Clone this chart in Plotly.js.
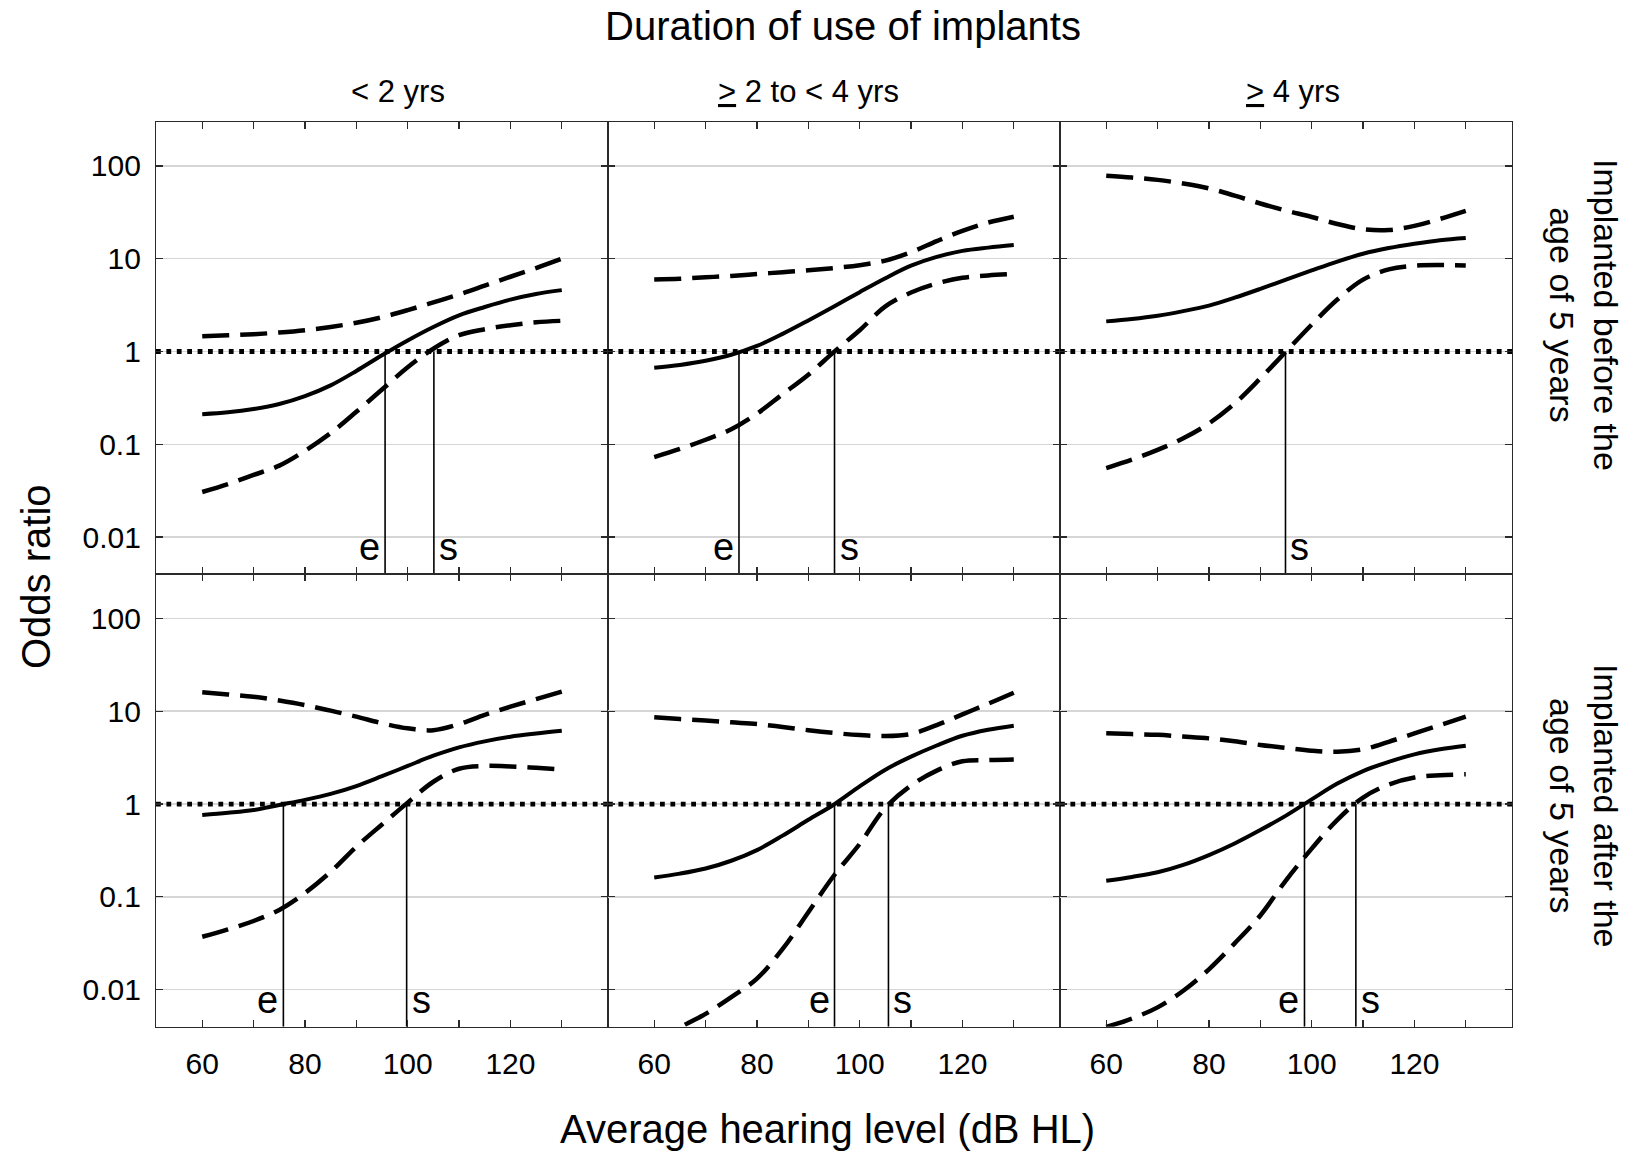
<!DOCTYPE html>
<html>
<head>
<meta charset="utf-8">
<script src="https://cdn.plot.ly/plotly-3.0.1.min.js"></script>
<style>html,body{margin:0;padding:0;background:#fff;}#chart{width:1630px;height:1155px;}</style>
</head>
<body>
<div id="chart"></div>
<script>
// ---------- data (odds ratios) ----------
const hearingLevel = [60, 65, 70, 75, 80, 85, 90, 95, 100, 105, 110, 115, 120, 125, 130];

const columnLabels = ['&lt; 2 yrs', '<u>&gt;</u> 2 to &lt; 4 yrs', '<u>&gt;</u> 4 yrs'];
const rowLabels = ['Implanted before the<br>age of 5 years', 'Implanted after the<br>age of 5 years'];

const yTickVals = [0.01, 0.1, 1, 10, 100];
const yTickText = ['0.01', '0.1', '1', '10', '100'];
const xTickVals = [60, 70, 80, 90, 100, 110, 120, 130];
const xTickText = ['60', '', '80', '', '100', '', '120', ''];

// Implanted before age 5
const orBeforeLt2  = [0.211, 0.221, 0.240, 0.272, 0.331, 0.432, 0.617, 0.912, 1.318, 1.841, 2.455, 3.02, 3.63, 4.17, 4.59];
const hiBeforeLt2  = [1.462, 1.496, 1.538, 1.603, 1.698, 1.841, 2.042, 2.344, 2.793, 3.388, 4.121, 5.129, 6.397, 7.943, 10.0];
const loBeforeLt2  = [0.0306, 0.0372, 0.0468, 0.0589, 0.0851, 0.132, 0.224, 0.389, 0.676, 1.072, 1.500, 1.738, 1.923, 2.065, 2.143];

const orBefore2to4 = [0.667, 0.716, 0.794, 0.923, 1.148, 1.549, 2.163, 3.055, 4.365, 6.166, 8.414, 10.47, 12.16, 13.18, 14.03];
const hiBefore2to4 = [5.984, 6.095, 6.310, 6.531, 6.839, 7.161, 7.499, 7.943, 8.511, 9.550, 11.75, 15.49, 19.95, 24.55, 28.38];
const loBefore2to4 = [0.0729, 0.0891, 0.112, 0.145, 0.214, 0.347, 0.562, 0.991, 1.698, 3.062, 4.325, 5.408, 6.237, 6.607, 6.839];

const orBeforeGe4  = [2.113, 2.239, 2.427, 2.723, 3.126, 3.802, 4.732, 5.957, 7.482, 9.333, 11.32, 13.03, 14.52, 15.85, 16.75];
const hiBeforeGe4  = [78.5, 75.0, 70.8, 64.6, 57.3, 47.9, 39.4, 33.1, 28.2, 23.7, 20.8, 20.4, 22.6, 26.9, 32.8];
const loBeforeGe4  = [0.0555, 0.0684, 0.0871, 0.116, 0.168, 0.275, 0.513, 1.000, 1.950, 3.631, 5.957, 7.674, 8.414, 8.551, 8.472];

// Implanted after age 5
const orAfterLt2   = [0.762, 0.804, 0.861, 0.977, 1.109, 1.288, 1.563, 1.995, 2.570, 3.311, 4.074, 4.732, 5.309, 5.754, 6.166];
const hiAfterLt2   = [15.96, 15.14, 14.32, 13.03, 11.64, 10.12, 8.730, 7.413, 6.531, 6.237, 7.244, 9.120, 11.17, 13.49, 16.22];
const loAfterLt2   = [0.0372, 0.0447, 0.0550, 0.0724, 0.110, 0.186, 0.347, 0.603, 1.035, 1.738, 2.399, 2.570, 2.541, 2.455, 2.360];

const orAfter2to4  = [0.162, 0.178, 0.202, 0.245, 0.319, 0.457, 0.676, 0.989, 1.549, 2.344, 3.236, 4.266, 5.433, 6.310, 6.982];
const hiAfter2to4  = [8.590, 8.222, 7.943, 7.586, 7.278, 6.761, 6.237, 5.821, 5.521, 5.395, 5.689, 7.079, 9.226, 12.02, 15.81];
const loAfter2to4  = [0.0024, 0.00389, 0.00550, 0.00832, 0.0132, 0.0275, 0.0684, 0.170, 0.372, 0.912, 1.585, 2.291, 2.884, 2.972, 3.020];

const orAfterGe4   = [0.149, 0.164, 0.184, 0.221, 0.282, 0.376, 0.525, 0.750, 1.122, 1.660, 2.265, 2.851, 3.428, 3.890, 4.246];
const hiAfterGe4   = [5.768, 5.662, 5.559, 5.333, 5.093, 4.732, 4.325, 4.027, 3.758, 3.656, 3.890, 4.677, 5.768, 7.079, 8.730];
const loAfterGe4   = [0.00398, 0.00490, 0.00646, 0.00977, 0.0166, 0.0316, 0.0631, 0.151, 0.331, 0.676, 1.175, 1.622, 1.928, 2.042, 2.089];

// hearing levels where OR (e) and lower CI (s) cross 1
const eLevels = [95.6, 76.5, null, 75.8, 95.1, 98.6];
const sLevels = [105.1, 95.1, 94.9, 99.8, 105.6, 108.6];

const referenceOR = 1;
const yMin = 0.004, yMax = 300;
const xMin = 51, xMax = 139;
const letterLevel = 0.0078;

// ---------- build ----------
const panels = [
  [orBeforeLt2, hiBeforeLt2, loBeforeLt2],
  [orBefore2to4, hiBefore2to4, loBefore2to4],
  [orBeforeGe4, hiBeforeGe4, loBeforeGe4],
  [orAfterLt2, hiAfterLt2, loAfterLt2],
  [orAfter2to4, hiAfter2to4, loAfter2to4],
  [orAfterGe4, hiAfterGe4, loAfterGe4]
];

const W = 1630, H = 1155;
const colPx = [[156, 608], [608, 1060], [1060, 1512]];
const rowPx = [[121.7, 574], [574, 1026.7]];
const FONT = 'Arial, "Liberation Sans", Helvetica, sans-serif';

const traces = [];
const layout = {
  width: W, height: H, autosize: false,
  margin: {l: 0, r: 0, t: 0, b: 0},
  paper_bgcolor: '#ffffff', plot_bgcolor: '#ffffff',
  showlegend: false,
  font: {family: FONT, color: '#000', size: 30},
  title: {text: 'Duration of use of implants', x: 843 / W, xanchor: 'center', y: 1 - 26 / H, yanchor: 'middle',
          font: {size: 40, family: FONT, color: '#000'}},
  annotations: []
};

panels.forEach((p, i) => {
  const r = Math.floor(i / 3), c = i % 3;
  const xa = i === 0 ? 'x' : 'x' + (i + 1);
  const ya = i === 0 ? 'y' : 'y' + (i + 1);
  const xKey = i === 0 ? 'xaxis' : 'xaxis' + (i + 1);
  const yKey = i === 0 ? 'yaxis' : 'yaxis' + (i + 1);

  layout[xKey] = {
    domain: [colPx[c][0] / W, colPx[c][1] / W], anchor: ya,
    range: [xMin, xMax], showgrid: false, zeroline: false,
    showline: true, linecolor: '#2a2a2a', linewidth: 1.1, mirror: 'ticks',
    ticks: 'inside', ticklen: 7, tickwidth: 1.2, tickcolor: '#2a2a2a',
    tickmode: 'array', tickvals: xTickVals, ticktext: xTickText,
    showticklabels: r === 1, ticklabelstandoff: 10,
    tickfont: {size: 30, family: FONT, color: '#000'}
  };
  layout[yKey] = {
    domain: [1 - rowPx[r][1] / H, 1 - rowPx[r][0] / H], anchor: xa,
    type: 'log', range: [Math.log10(yMin), Math.log10(yMax)],
    showgrid: true, gridcolor: '#d6d6d6', gridwidth: 1.4, zeroline: false,
    showline: true, linecolor: '#2a2a2a', linewidth: 1.1, mirror: 'ticks',
    ticks: 'inside', ticklen: 7, tickwidth: 1.2, tickcolor: '#2a2a2a',
    tickmode: 'array', tickvals: yTickVals, ticktext: yTickText,
    showticklabels: c === 0, ticklabelstandoff: 8,
    tickfont: {size: 30, family: FONT, color: '#000'}
  };

  // reference line OR = 1
  traces.push({x: [xMin, xMax], y: [referenceOR, referenceOR], xaxis: xa, yaxis: ya, mode: 'lines',
    line: {color: '#000', width: 4.8, dash: '4.8px,5.6px'}, hoverinfo: 'skip'});
  // upper and lower confidence limits
  [p[1], p[2]].forEach(arr => traces.push({x: hearingLevel, y: arr, xaxis: xa, yaxis: ya, mode: 'lines',
    line: {color: '#000', width: 4.5, dash: '27px,11px', shape: 'spline', smoothing: 1}, hoverinfo: 'skip'}));
  // odds ratio
  traces.push({x: hearingLevel, y: p[0], xaxis: xa, yaxis: ya, mode: 'lines',
    line: {color: '#000', width: 4, shape: 'spline', smoothing: 1}, hoverinfo: 'skip'});

  // e and s drop lines + labels
  [[eLevels[i], 'e', 'right', -3], [sLevels[i], 's', 'left', 3]].forEach(([lv, txt, anc, sh]) => {
    if (lv === null) return;
    traces.push({x: [lv, lv], y: [referenceOR, yMin], xaxis: xa, yaxis: ya, mode: 'lines',
      line: {color: '#000', width: 1.6}, hoverinfo: 'skip'});
    layout.annotations.push({xref: xa, yref: ya, x: lv, y: Math.log10(letterLevel), text: txt,
      xanchor: anc, yanchor: 'middle', xshift: sh, showarrow: false,
      font: {size: 38, family: FONT, color: '#000'}});
  });
});

// column headers
const colCenters = [398, 808, 1293];
columnLabels.forEach((t, c) => layout.annotations.push({xref: 'paper', yref: 'paper', x: colCenters[c] / W, y: 1 - 92 / H,
  text: t, showarrow: false, xanchor: 'center', yanchor: 'middle', font: {size: 31, family: FONT, color: '#000'}}));

// row labels
const rowCenters = [315, 806];
rowLabels.forEach((t, r) => layout.annotations.push({xref: 'paper', yref: 'paper', x: 1584 / W, y: 1 - rowCenters[r] / H,
  text: t, showarrow: false, textangle: 90, xanchor: 'center', yanchor: 'middle', align: 'center',
  font: {size: 34, family: FONT, color: '#000'}}));

// axis titles
layout.annotations.push({xref: 'paper', yref: 'paper', x: 828 / W, y: 1 - 1129 / H, text: 'Average hearing level (dB HL)',
  showarrow: false, xanchor: 'center', yanchor: 'middle', font: {size: 40, family: FONT, color: '#000'}});
layout.annotations.push({xref: 'paper', yref: 'paper', x: 36 / W, y: 1 - 577 / H, text: 'Odds ratio',
  showarrow: false, textangle: -90, xanchor: 'center', yanchor: 'middle', font: {size: 40, family: FONT, color: '#000'}});

Plotly.newPlot('chart', traces, layout, {staticPlot: true, displayModeBar: false});
</script>
</body>
</html>
